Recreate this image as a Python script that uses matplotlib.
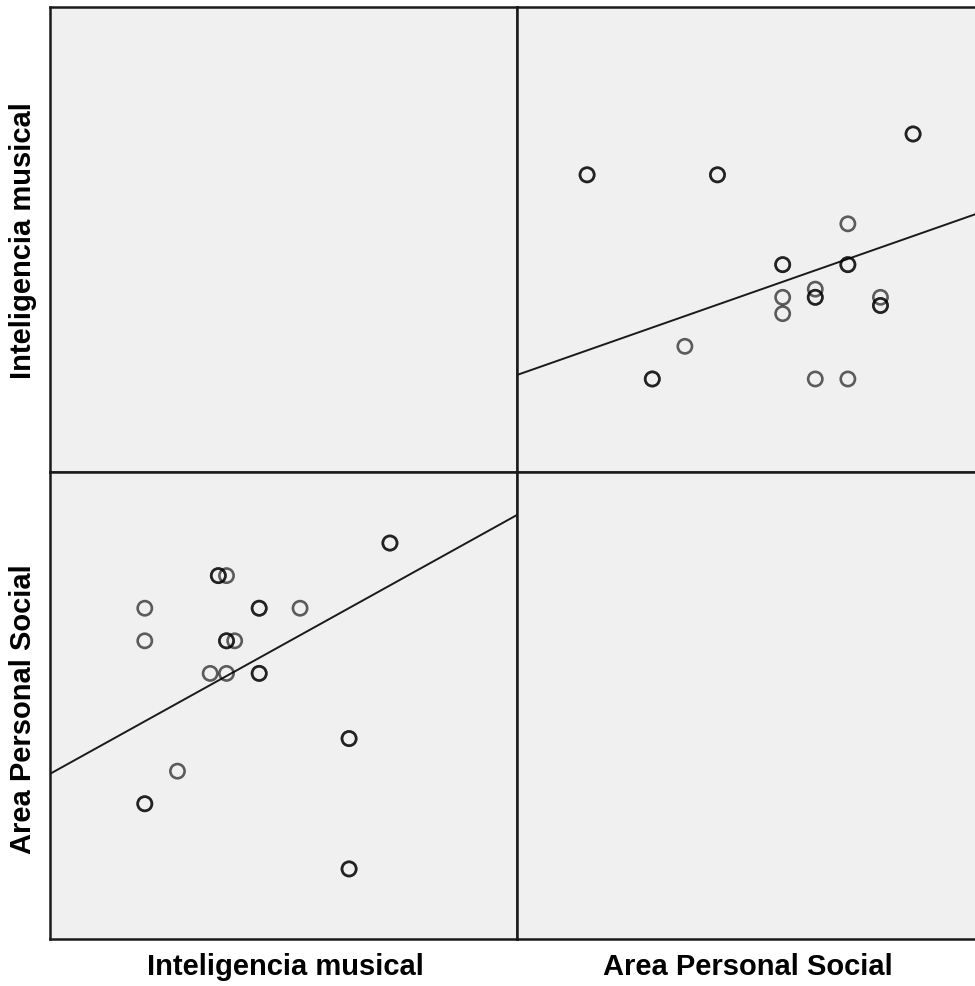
import matplotlib.pyplot as plt
import numpy as np

# Inteligencia musical / Area Personal Social (repeated pairs = overlapping cases)
im = [0, 0, 0, 0, 4, 8, 9, 9, 10, 10, 10, 11, 10, 14, 14, 14, 14, 19, 25, 25, 25, 25, 30, 30]
aps = [8, 7, 2, 2, 3, 6, 9, 9, 9, 7, 7, 7, 6, 8, 8, 6, 6, 8, 4, 4, 0, 0, 10, 10]

# fit lines as drawn in the picture (intercept, slope)
fit_aps_on_im = (4.53, 0.139)
fit_im_on_aps = (3.50, 1.40)

labels = ['Inteligencia musical', 'Area Personal Social']

im_lim = (-11.6, 45.55)
aps_lim = (-2.15, 12.18)

plt.rcParams['font.family'] = ['Liberation Sans', 'DejaVu Sans']

fig = plt.figure(figsize=(9.75, 9.87), dpi=100)
W, H = 975, 987


def add_panel(x0, y0, x1, y1):
    return fig.add_axes([x0 / W, 1 - y1 / H, (x1 - x0) / W, (y1 - y0) / H])


ax_tl = add_panel(50, 8, 517, 473)
ax_tr = add_panel(517, 8, 975, 473)
ax_bl = add_panel(50, 473, 517, 940)
ax_br = add_panel(517, 473, 975, 940)

for ax in (ax_tl, ax_tr, ax_bl, ax_br):
    ax.set_facecolor('#f0f0f0')
    ax.set_xticks([])
    ax.set_yticks([])
    for s in ax.spines.values():
        s.set_color('#1a1a1a')
        s.set_linewidth(1.8)
for ax in (ax_tr, ax_br):
    ax.spines['right'].set_visible(False)

ax_tl.set_xlim(im_lim)
ax_tl.set_ylim(im_lim)
ax_br.set_xlim(aps_lim)
ax_br.set_ylim(aps_lim)

mk = dict(s=105, facecolors='none', edgecolors=(0, 0, 0, 0.62), linewidths=1.9, zorder=3)

# top right: x = APS, y = IM
ax_tr.scatter(aps, im, **mk)
xs = np.array([-2.15, 11.9])
ax_tr.plot(xs, fit_im_on_aps[0] + fit_im_on_aps[1] * xs, color='#1a1a1a', lw=1.4, zorder=2)
ax_tr.set_xlim(-2.15, 11.9)
ax_tr.set_ylim(-11.39, 45.55)

# bottom left: x = IM, y = APS
ax_bl.scatter(im, aps, **mk)
xs = np.array(im_lim)
ax_bl.plot(xs, fit_aps_on_im[0] + fit_aps_on_im[1] * xs, color='#1a1a1a', lw=1.4, zorder=2)
ax_bl.set_xlim(im_lim)
ax_bl.set_ylim(aps_lim)

fig.text(285 / W, 1 - 975 / H, labels[0], ha='center', va='baseline', fontsize=21, fontweight='bold')
fig.text(748 / W, 1 - 975 / H, labels[1], ha='center', va='baseline', fontsize=21, fontweight='bold')
fig.text(23 / W, 1 - 241 / H, labels[0], ha='center', va='center', rotation=90, fontsize=21, fontweight='bold')
fig.text(23 / W, 1 - 709 / H, labels[1], ha='center', va='center', rotation=90, fontsize=21, fontweight='bold')

fig.savefig('out.png', dpi=100)
